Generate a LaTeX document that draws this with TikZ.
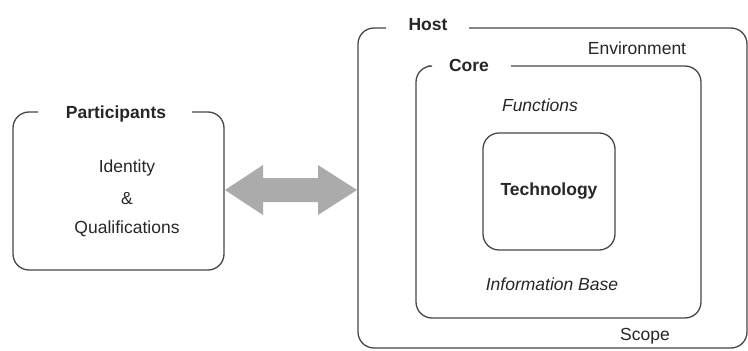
\documentclass[tikz,border=0pt]{standalone}
\usepackage{fontspec}
\setmainfont{Liberation Sans}
\usetikzlibrary{calc}
\begin{document}
\begin{tikzpicture}[x=1pt,y=-1pt,
  frame/.style={draw=black!72,line width=1.3pt,rounded corners=16pt},
  lbl/.style={font=\fontsize{17.5}{20}\selectfont,text=black!85,inner sep=0pt},
  title/.style={lbl,font=\fontsize{17.5}{20}\selectfont\bfseries},
  ital/.style={lbl,font=\fontsize{17.5}{20}\selectfont\itshape},
  arrowgray/.style={fill=black!33}]
\useasboundingbox (0,0) rectangle (748,351);
% Participants box
\draw[frame] (192,112) -- (224,112) -- (224,270) -- (13,270) -- (13,112) -- (38,112);
\node[title] (part) at (116,114) {Participants};
\node[lbl] (ident) at (127,168) {Identity};
\node[lbl] (amp) at (127,199) {\&};
\node[lbl] (qual) at (127,229) {Qualifications};
% Host box
\draw[frame] (469,28) -- (747,28) -- (747,348) -- (358,348) -- (358,28) -- (386,28);
\node[title] (host) at (428,25) {Host};
\node[lbl] (env) at (637,48) {Environment};
\node[lbl] (scope) at (645,336) {Scope};
% Core box
\draw[frame] (511,66) -- (701,66) -- (701,318) -- (416,318) -- (416,66) -- (428,66);
\node[title] (core) at (469,65) {Core};
\node[ital] (func) at (540,105) {Functions};
\node[ital] (info) at (552,284) {Information Base};
% Technology box
\node[draw=black!72,line width=1.3pt,rounded corners=16pt,minimum width=132pt,minimum height=117pt,inner sep=0pt,font=\fontsize{17.5}{20}\selectfont\bfseries,text=black!85] (tech) at (549,191.5) {Technology};
% double arrow
\coordinate (pE) at (225,190);
\coordinate (hW) at (357,190);
\fill[arrowgray] (pE) -- ++(38,-25) -- ++(0,13) -- ($(hW)+(-39,-12)$) -- ++(0,-13) -- (hW) -- ++(-39,25) -- ++(0,-13) -- ($(pE)+(38,12)$) -- ++(0,13) -- cycle;
\end{tikzpicture}
\end{document}
